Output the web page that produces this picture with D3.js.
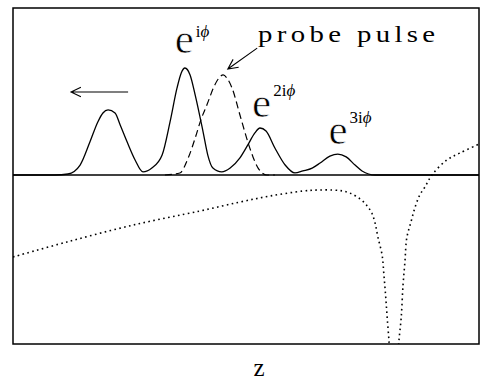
<!DOCTYPE html>
<html>
<head>
<meta charset="utf-8">
<script src="https://cdn.jsdelivr.net/npm/d3@7"></script>
<style>
  body { margin: 0; background: #fff; }
  svg { display: block; }
  text { font-family: "Liberation Serif", "DejaVu Serif", serif; fill: #000; }
</style>
</head>
<body>
<svg width="480" height="382"></svg>
<script>
// field amplitude (solid), probe pulse (dashed), index profile (dotted)
var solidZ = [0, 0.90, 1.18, 1.44, 1.65, 1.82, 1.93, 2.04, 2.19, 2.30, 2.45, 2.62, 2.79, 2.98, 3.20, 3.37, 3.52, 3.61, 3.69, 3.80, 3.91, 4.08, 4.18, 4.29, 4.48, 4.66, 4.87, 5.04, 5.19, 5.30, 5.43, 5.62, 5.84, 6.05, 6.22, 6.42, 6.59, 6.80, 6.97, 7.15, 7.34, 7.49, 7.77, 10];
var solidV = [0, 0, 0.006, 0.059, 0.195, 0.314, 0.367, 0.385, 0.367, 0.296, 0.195, 0.089, 0.018, 0.041, 0.118, 0.314, 0.515, 0.604, 0.633, 0.592, 0.473, 0.254, 0.118, 0.041, 0.018, 0.041, 0.101, 0.178, 0.249, 0.278, 0.260, 0.160, 0.059, 0.012, 0.024, 0.041, 0.071, 0.112, 0.124, 0.107, 0.059, 0.024, 0, 0];

var probeZ = [3.26, 3.58, 3.76, 3.91, 4.03, 4.16, 4.33, 4.42, 4.51, 4.59, 4.70, 4.87, 5.04, 5.15, 5.26, 5.45, 5.62];
var probeV = [0, 0.012, 0.101, 0.219, 0.325, 0.414, 0.533, 0.574, 0.592, 0.574, 0.515, 0.355, 0.195, 0.107, 0.041, 0, 0];

var indexLeftZ = [0, 1.16, 2.58, 4.01, 4.87, 5.52, 6.22, 6.54, 6.87, 7.08, 7.23, 7.45, 7.60, 7.70, 7.77, 7.83, 7.92, 7.96, 8.00, 8.03, 8.07, 8.09];
var indexLeftV = [-0.485, -0.396, -0.296, -0.213, -0.160, -0.124, -0.095, -0.089, -0.089, -0.095, -0.107, -0.142, -0.183, -0.225, -0.284, -0.367, -0.473, -0.592, -0.728, -0.846, -0.988, -1.095];
var indexRightZ = [8.26, 8.28, 8.33, 8.37, 8.41, 8.45, 8.54, 8.63, 8.73, 8.84, 8.99, 9.31, 9.59, 10];
var indexRightV = [-1.095, -0.988, -0.846, -0.651, -0.515, -0.373, -0.278, -0.189, -0.118, -0.071, 0, 0.089, 0.130, 0.183];

var svg = d3.select("svg"),
    margin = { top: 8, right: 1, bottom: 38, left: 13 },
    width = svg.attr("width") - margin.left - margin.right,
    height = svg.attr("height") - margin.top - margin.bottom;

var serif = "'Liberation Serif', 'DejaVu Serif', serif";

var x = d3.scaleLinear().domain([0, 10]).range([margin.left, margin.left + width]);
var y = d3.scaleLinear().domain([-1, 1]).range([344, 6]);

function pts(zs, vs) {
    return zs.map(function(z, i) { return [z, vs[i]]; });
}

var line = d3.line()
    .x(function(d) { return x(d[0]); })
    .y(function(d) { return y(d[1]); })
    .curve(d3.curveMonotoneX);

svg.append("clipPath").attr("id", "frame")
  .append("rect")
    .attr("x", margin.left).attr("y", margin.top)
    .attr("width", width).attr("height", height);

var g = svg.append("g").attr("clip-path", "url(#frame)");

// zero line
g.append("line")
    .attr("x1", x(0)).attr("x2", x(10))
    .attr("y1", y(0)).attr("y2", y(0))
    .attr("stroke", "#000").attr("stroke-width", 1.5);

g.append("path")
    .datum(pts(probeZ, probeV))
    .attr("d", line)
    .attr("fill", "none").attr("stroke", "#000")
    .attr("stroke-width", 1.2).attr("stroke-dasharray", "7,4");

g.append("path")
    .datum(pts(solidZ, solidV))
    .attr("d", line)
    .attr("fill", "none").attr("stroke", "#000").attr("stroke-width", 1.3);

[pts(indexLeftZ, indexLeftV), pts(indexRightZ, indexRightV)].forEach(function(p) {
    g.append("path")
        .datum(p)
        .attr("d", d3.line()
            .x(function(d) { return x(d[0]); })
            .y(function(d) { return y(d[1]); })
            .curve(d3.curveCatmullRom))
        .attr("fill", "none").attr("stroke", "#000")
        .attr("stroke-width", 1.6).attr("stroke-dasharray", "1.6,3.4");
});

// frame
svg.append("rect")
    .attr("x", margin.left).attr("y", margin.top)
    .attr("width", width).attr("height", height)
    .attr("fill", "none").attr("stroke", "#000").attr("stroke-width", 1.5);

// open arrows
function arrow(z1, v1, z2, v2) {
    var x1 = x(z1), y1 = y(v1), x2 = x(z2), y2 = y(v2);
    var a = Math.atan2(y2 - y1, x2 - x1), len = 11, spread = 0.45;
    svg.append("path")
        .attr("d", "M" + x1 + "," + y1 + "L" + x2 + "," + y2 +
            "M" + (x2 - len * Math.cos(a - spread)) + "," + (y2 - len * Math.sin(a - spread)) +
            "L" + x2 + "," + y2 +
            "L" + (x2 - len * Math.cos(a + spread)) + "," + (y2 - len * Math.sin(a + spread)))
        .attr("fill", "none").attr("stroke", "#000").attr("stroke-width", 1.1);
}
arrow(2.47, 0.491, 1.245, 0.491);
arrow(5.24, 0.751, 4.61, 0.627);

// wide serif look: stretch horizontally by 1.2
svg.append("text")
    .attr("transform", "translate(" + x(5.26) + ",42) scale(1.2,1)")
    .attr("font-family", serif)
    .attr("font-size", 24)
    .attr("textLength", 147.5).attr("lengthAdjust", "spacing")
    .text("probe pulse");

// phase labels
var labels = [
    { z: 3.47, base: 53, sup: "i", supDy: -16 },
    { z: 5.13, base: 117, sup: "2i", supDy: -21 },
    { z: 6.77, base: 144, sup: "3i", supDy: -21 }
];
labels.forEach(function(l) {
    var t = svg.append("text")
        .attr("font-family", serif)
        .attr("x", x(l.z)).attr("y", l.base);
    // slight white outline so the big "e" reads as a light face
    t.append("tspan").attr("font-size", 43)
        .attr("stroke", "#fff").attr("stroke-width", 0.7)
        .text("e");
    t.append("tspan").attr("font-size", 17).attr("dy", l.supDy).attr("dx", 2).text(l.sup);
    t.append("tspan").attr("font-size", 17).attr("font-style", "italic").text("\u03D5");
});

svg.append("text")
    .attr("x", x(5.28)).attr("y", 376)
    .attr("font-family", serif)
    .attr("text-anchor", "middle")
    .attr("font-size", 25)
    .text("z");
</script>
</body>
</html>
